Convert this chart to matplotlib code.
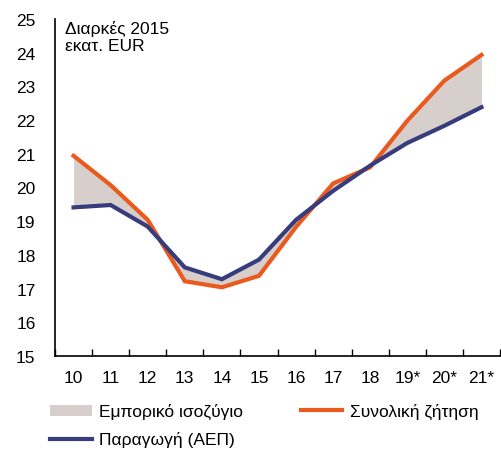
import matplotlib
matplotlib.use("Agg")
import matplotlib.pyplot as plt
from matplotlib.patches import Patch
from matplotlib.lines import Line2D

plt.rcParams['font.family'] = ['Liberation Sans', 'DejaVu Sans']

years = ["10", "11", "12", "13", "14", "15", "16", "17", "18", "19*", "20*", "21*"]
demand = [20.94, 20.07, 19.04, 17.22, 17.04, 17.38, 18.83, 20.12, 20.6, 21.98, 23.17, 23.93]
gdp = [19.41, 19.48, 18.84, 17.63, 17.28, 17.86, 19.04, 19.9, 20.65, 21.32, 21.83, 22.38]
yticks = list(range(15, 26))

c_orange = '#EA5A1E'
c_navy = '#363C7C'
c_fill = '#D7CFCB'

fig = plt.figure(figsize=(5.02, 4.52), dpi=100)
ax = fig.add_axes([0.1096, 0.210, 0.8864, 0.746])
x = list(range(len(years)))
ax.fill_between(x, demand, gdp, color=c_fill, lw=0, zorder=1)
ax.plot(x, demand, color=c_orange, lw=3, zorder=2, solid_joinstyle='miter')
ax.plot(x, gdp, color=c_navy, lw=3, zorder=3, solid_joinstyle='miter')

ax.set_xlim(-0.5, len(years) - 0.5)
ax.set_ylim(15, 25)
ax.set_yticks(yticks)
ax.set_yticklabels([str(t) for t in yticks], fontsize=12.5)
ax.tick_params(axis='y', length=0, pad=14)
ax.set_xticks([i + 0.5 for i in range(-1, len(years))], minor=False)
ax.set_xticklabels([])
ax.tick_params(axis='x', which='major', direction='in', length=5, width=1)
ax.set_xticks(x, minor=True)
ax.set_xticklabels(years, minor=True, fontsize=12.5)
ax.tick_params(axis='x', which='minor', length=0, pad=10)

for s in ['top', 'right']:
    ax.spines[s].set_visible(False)
ax.spines['left'].set_linewidth(1.2)
ax.spines['bottom'].set_linewidth(1.2)

ax.text(0.022, 0.998, "Διαρκές 2015\nεκατ. EUR", transform=ax.transAxes, fontsize=12.5,
        va='top', ha='left', linespacing=1.2)

handles = [Patch(facecolor=c_fill, edgecolor='none'),
           Line2D([], [], color=c_navy, lw=3),
           Line2D([], [], color=c_orange, lw=3)]
labels = ["Εμπορικό ισοζύγιο", "Παραγωγή (ΑΕΠ)", "Συνολική ζήτηση"]
fig.legend(handles, labels, ncol=2, loc='upper left', bbox_to_anchor=(0.082, 0.125),
           frameon=False, fontsize=12.5, handlelength=2.4, handleheight=0.6,
           handletextpad=0.45, columnspacing=3.3, labelspacing=0.7, borderpad=0)

fig.savefig("out.png", dpi=100)
